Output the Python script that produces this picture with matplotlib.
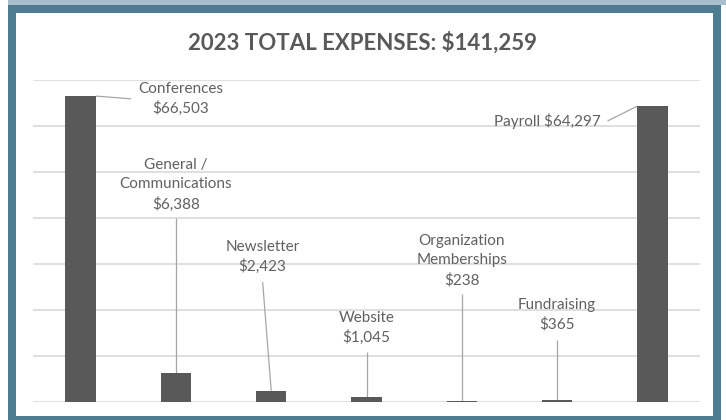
import matplotlib.pyplot as plt
from matplotlib.patches import Rectangle

plt.rcParams['font.family'] = ['Lato', 'DejaVu Sans']

# expense categories and amounts
categories = ['Conferences', 'General /\nCommunications', 'Newsletter', 'Website',
              'Organization\nMemberships', 'Fundraising', 'Payroll']
amounts = [66503, 6388, 2423, 1045, 238, 365, 64297]

# where each callout sits (data coords) and where its leader line starts
label_xy = [(1.05, 65900), (1.0, 47200), (1.91, 31500), (3.0, 16100),
            (4.0, 30700), (5.0, 18900), (5.46, 61100)]
leader_start = [(0.53, 65900), (1.0, 40000), (1.91, 26100), (3.0, 10900),
                (4.0, 23500), (5.0, 13500), (5.53, 61100)]

bar_color = '#595959'
text_color = '#606060'
grid_color = '#d9d9d9'
leader_color = '#a6a6a6'
bar_width = 0.32

W, H = 726, 420
fig = plt.figure(figsize=(W / 100, H / 100), dpi=100)
fig.patch.set_facecolor('white')


def px_rect(x0, y0, x1, y1, color):
    # rectangle given in pixels from the top-left corner
    fig.patches.append(Rectangle((x0 / W, 1 - y1 / H), (x1 - x0) / W, (y1 - y0) / H,
                                 transform=fig.transFigure, facecolor=color,
                                 edgecolor='none', zorder=0))


# slide frame
px_rect(8, 0, W, 5, '#a9c0cc')
px_rect(8, 4.5, 721, H, '#4e7d92')
px_rect(16, 13, 713, 416, 'white')

ax = fig.add_axes([33 / W, (H - 402) / H, 667 / W, 322 / H])
ax.set_facecolor('none')
ax.set_zorder(2)

x = list(range(len(categories)))
ax.bar(x, amounts, width=bar_width, color=bar_color, zorder=3)

ax.set_xlim(-0.5, len(categories) - 0.5)
ax.set_ylim(0, 70000)
ax.set_yticks(range(0, 70001, 10000))
ax.yaxis.grid(True, color=grid_color, linewidth=1.2, zorder=0)
ax.set_axisbelow(True)
ax.tick_params(left=False, bottom=False, labelleft=False, labelbottom=False)
for s in ax.spines.values():
    s.set_visible(False)

for i, (name, val) in enumerate(zip(categories, amounts)):
    lx, ly = label_xy[i]
    sx, sy = leader_start[i]
    if name == 'Payroll':
        ax.text(lx, ly, f'{name} ${val:,}', ha='right', va='center',
                fontsize=11, color=text_color, zorder=4)
        end = (i - bar_width / 2, val)
    else:
        ax.text(lx, ly, f'{name}\n${val:,}', ha='center', va='center',
                fontsize=11, color=text_color, linespacing=1.45, zorder=4)
        end = (i + bar_width / 2, val) if i == 0 else (i, val)
    ax.plot([sx, end[0]], [sy, end[1]], color=leader_color, linewidth=0.9,
            zorder=2, solid_capstyle='butt')

fig.text(0.5, 1 - 43 / H, '2023 TOTAL EXPENSES: $141,259', ha='center', va='center',
         fontsize=16, fontweight='bold', color='#595959')

fig.savefig('out.png', dpi=100)
